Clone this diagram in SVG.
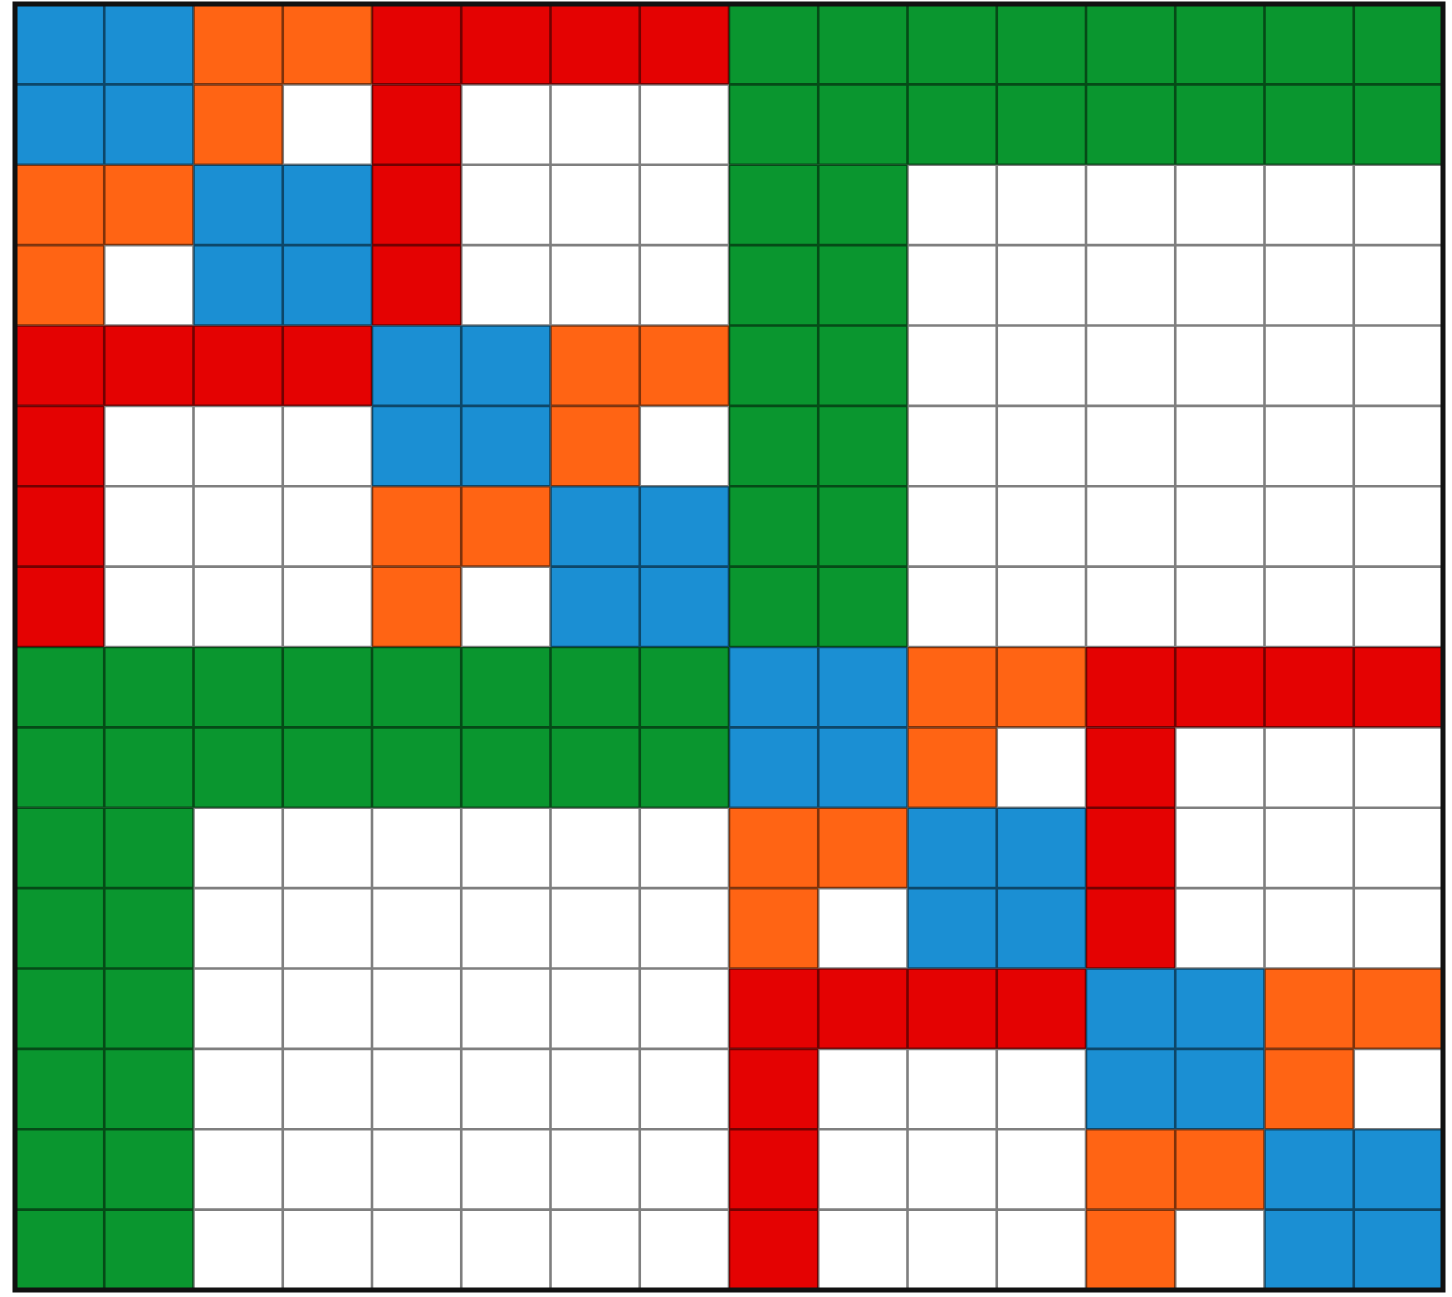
<svg xmlns="http://www.w3.org/2000/svg" width="1452" height="1297" viewBox="0 0 1452 1297">
<style>
.b{fill:#1b8fd3}.o{fill:#ff6414}.r{fill:#e40202}.g{fill:#0a962f}
.grid{stroke:#000;stroke-opacity:0.5;stroke-width:2.6;fill:none;vector-effect:non-scaling-stroke}
.frame{stroke:#111;stroke-width:5;fill:none;vector-effect:non-scaling-stroke}
</style>
<rect width="1452" height="1297" fill="#fff"/>
<g id="matrix" transform="translate(15,4) scale(89.25,80.375)">
<g id="green">
<rect class="g" x="8" y="0" width="8" height="2"/><rect class="g" x="8" y="2" width="2" height="6"/>
<rect class="g" x="0" y="8" width="8" height="2"/><rect class="g" x="0" y="10" width="2" height="6"/>
</g>
<g id="red">
<rect class="r" x="4" y="0" width="4" height="1"/><rect class="r" x="4" y="1" width="1" height="3"/>
<rect class="r" x="0" y="4" width="4" height="1"/><rect class="r" x="0" y="5" width="1" height="3"/>
<rect class="r" x="12" y="8" width="4" height="1"/><rect class="r" x="12" y="9" width="1" height="3"/>
<rect class="r" x="8" y="12" width="4" height="1"/><rect class="r" x="8" y="13" width="1" height="3"/>
</g>
<g id="orange">
<rect class="o" x="2" y="0" width="2" height="1"/><rect class="o" x="2" y="1" width="1" height="1"/>
<rect class="o" x="0" y="2" width="2" height="1"/><rect class="o" x="0" y="3" width="1" height="1"/>
<rect class="o" x="6" y="4" width="2" height="1"/><rect class="o" x="6" y="5" width="1" height="1"/>
<rect class="o" x="4" y="6" width="2" height="1"/><rect class="o" x="4" y="7" width="1" height="1"/>
<rect class="o" x="10" y="8" width="2" height="1"/><rect class="o" x="10" y="9" width="1" height="1"/>
<rect class="o" x="8" y="10" width="2" height="1"/><rect class="o" x="8" y="11" width="1" height="1"/>
<rect class="o" x="14" y="12" width="2" height="1"/><rect class="o" x="14" y="13" width="1" height="1"/>
<rect class="o" x="12" y="14" width="2" height="1"/><rect class="o" x="12" y="15" width="1" height="1"/>
</g>
<g id="blue">
<rect class="b" x="0" y="0" width="2" height="2"/><rect class="b" x="2" y="2" width="2" height="2"/>
<rect class="b" x="4" y="4" width="2" height="2"/><rect class="b" x="6" y="6" width="2" height="2"/>
<rect class="b" x="8" y="8" width="2" height="2"/><rect class="b" x="10" y="10" width="2" height="2"/>
<rect class="b" x="12" y="12" width="2" height="2"/><rect class="b" x="14" y="14" width="2" height="2"/>
</g>
<path id="gridlines" class="grid" d="M1 0V16M2 0V16M3 0V16M4 0V16M5 0V16M6 0V16M7 0V16M8 0V16M9 0V16M10 0V16M11 0V16M12 0V16M13 0V16M14 0V16M15 0V16M0 1H16M0 2H16M0 3H16M0 4H16M0 5H16M0 6H16M0 7H16M0 8H16M0 9H16M0 10H16M0 11H16M0 12H16M0 13H16M0 14H16M0 15H16"/>
<rect id="border" class="frame" x="0" y="0" width="16" height="16"/>
</g>
</svg>
